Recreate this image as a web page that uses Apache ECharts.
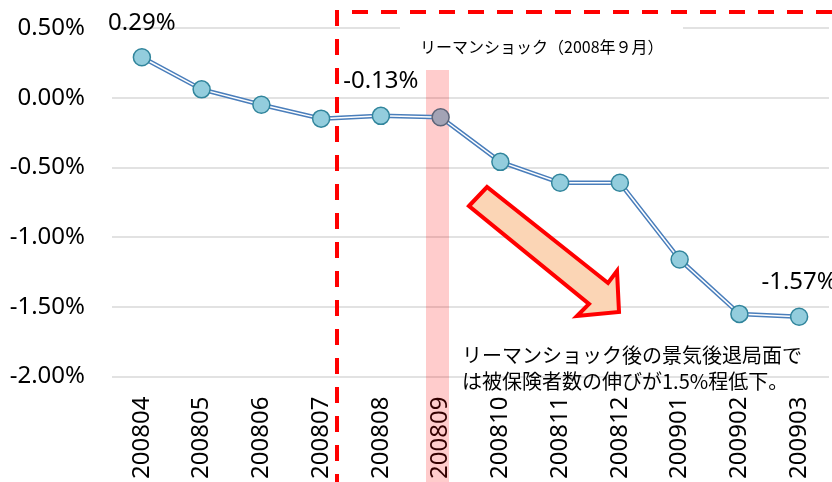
<!DOCTYPE html>
<html>
<head>
<meta charset="utf-8">
<script src="https://cdn.jsdelivr.net/npm/echarts@6/dist/echarts.min.js"></script>
<style>
html,body{margin:0;padding:0;background:#fff;}
#chart{width:832px;height:482px;}
</style>
</head>
<body>
<div id="chart"></div>
<script>
const categories = ['200804','200805','200806','200807','200808','200809','200810','200811','200812','200901','200902','200903'];
const values = [0.29, 0.06, -0.05, -0.15, -0.13, -0.14, -0.46, -0.61, -0.61, -1.16, -1.55, -1.57];
const labeledIndices = [0, 4, 11];
const highlightIndex = 5;
const yMin = -2.0, yMax = 0.5, yStep = 0.5;
const titleNote = 'リーマンショック（2008年９月）';
const noteLines = ['リーマンショック後の景気後退局面で', 'は被保険者数の伸びが1.5%程低下。'];

const FONT = "'Noto Sans', 'Noto Sans CJK JP', sans-serif";
const chart = echarts.init(document.getElementById('chart'), null, {renderer: 'canvas'});

const pointData = values.map((v, i) => {
  const item = {value: v};
  if (i === highlightIndex) {
    item.itemStyle = {color: '#A3A3B5', borderColor: '#5D6478'};
  }
  if (labeledIndices.includes(i)) {
    item.label = {show: true};
  }
  return item;
});

chart.setOption({
  animation: false,
  backgroundColor: '#fff',
  grid: {left: 112, right: 3, top: 28, bottom: 103},
  xAxis: {
    type: 'category',
    data: categories,
    boundaryGap: true,
    axisLine: {show: false},
    axisTick: {show: false},
    axisLabel: {rotate: 90, fontSize: 24, color: '#000', fontFamily: FONT, margin: 20}
  },
  yAxis: {
    type: 'value',
    min: yMin, max: yMax, interval: yStep,
    axisLine: {show: false},
    axisTick: {show: false},
    splitLine: {lineStyle: {color: '#D9D9D9', width: 1.5}},
    axisLabel: {fontSize: 24, color: '#000', fontFamily: FONT, margin: 27,
      formatter: v => v.toFixed(2) + '%'}
  },
  series: [
    {
      type: 'line', data: values, symbol: 'none', z: 2,
      lineStyle: {color: '#4A7EBB', width: 4.5}
    },
    {
      type: 'line', data: pointData, symbol: 'circle', symbolSize: 17, z: 3,
      lineStyle: {color: '#fff', width: 1.5},
      itemStyle: {color: '#93CDDD', borderColor: '#31859C', borderWidth: 1.5},
      label: {show: false, position: 'top', distance: 13, fontSize: 24, color: '#000', fontFamily: FONT,
        formatter: p => p.value.toFixed(2) + '%'}
    }
  ],
  graphic: [
    {type: 'rect', z: 1, shape: {x: 400, y: 20, width: 283, height: 45}, style: {fill: '#fff'}},
    {type: 'rect', z: 1, shape: {x: 426, y: 70, width: 23, height: 420}, style: {fill: 'rgba(255,0,0,0.2)'}},
    {type: 'text', z: 100, left: 420, top: 39, style: {text: titleNote, font: "16px 'Noto Sans CJK JP'", fill: '#000'}},
    {type: 'polyline', z: 100, shape: {points: [[337, 490], [337, 12], [840, 12]]},
      style: {stroke: '#FF0000', lineWidth: 4, lineDash: [16, 13], fill: null}},
    {type: 'polygon', z: 100,
      shape: {points: [[469, 206], [487, 187], [608, 283], [617, 271], [619, 312], [577, 316], [589, 304]]},
      style: {fill: '#FBD5B5', stroke: '#FF0000', lineWidth: 4, lineJoin: 'miter'}},
    {type: 'text', z: 100, left: 462, top: 342, style: {text: noteLines.join('\n'), font: "20px 'Noto Sans CJK JP'", lineHeight: 26, fill: '#000'}}
  ]
});
</script>
</body>
</html>
